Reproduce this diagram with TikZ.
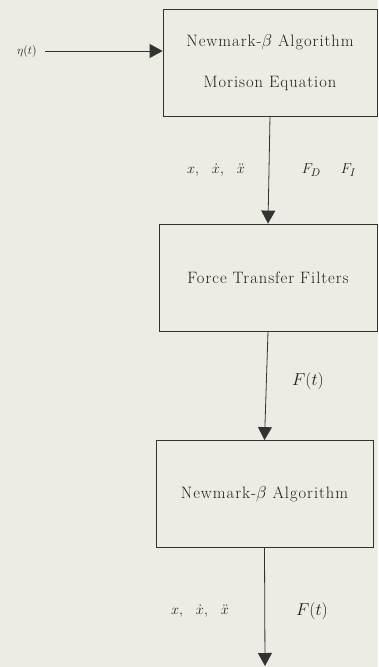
\documentclass[tikz,border=0pt]{standalone}
\usepackage{fontspec}
\newfontfamily\boxfont{Latin Modern Roman}[LetterSpace=6]
\usetikzlibrary{arrows.meta}
\definecolor{bg}{RGB}{236,236,228}
\definecolor{ink}{RGB}{50,50,50}
\definecolor{txt}{RGB}{30,30,30}
\tikzset{
  blockbox/.style={draw=ink, line width=0.8pt, minimum width=#1, minimum height=107pt, inner sep=0pt, align=center,
    text=txt, font=\boxfont\fontsize{16.5}{41}\selectfont},
  flow/.style={draw=ink, line width=0.8pt, -{Triangle[length=13pt,width=14pt]}},
  sig/.style={text=txt, inner sep=0pt},
}
\begin{document}
\begin{tikzpicture}[x=1pt,y=-1pt]
  \fill[bg] (0,0) rectangle (378,667);
  \useasboundingbox (0,0) rectangle (378,667);
  \node[blockbox=214pt] (b1) at (270,62.5) {Newmark-$\beta$ Algorithm\\Morison Equation};
  \node[blockbox=218pt] (b2) at (268,277.5) {Force Transfer Filters};
  \node[blockbox=217pt] (b3) at (264.5,494) {Newmark-$\beta$ Algorithm};
  \coordinate (in) at (45,51);
  \coordinate (out) at (265,666);
  \node[sig, font=\fontsize{12}{14}\selectfont] (eta) at (27,51) {$\eta(t)$};
  \draw[flow] (in) -- (in -| b1.west);
  \draw[flow] (b1.south) -- (b2.north);
  \draw[flow] (b2.south) -- (b3.north);
  \draw[flow] (b3.south) -- (out);
  \node[sig, font=\fontsize{15}{17}\selectfont] (l1) at (216,170) {$x,$\hspace{13pt}$\dot{x},$\hspace{13pt}$\ddot{x}$};
  \node[sig, font=\fontsize{15}{17}\selectfont] (l2) at (329,170) {$F_D$\hspace{20pt}$F_I$};
  \node[sig, font=\fontsize{16}{18}\selectfont] (l3) at (308,381) {$F(t)$};
  \node[sig, font=\fontsize{15}{17}\selectfont] (l4) at (200,611) {$x,$\hspace{13pt}$\dot{x},$\hspace{13pt}$\ddot{x}$};
  \node[sig, font=\fontsize{16}{18}\selectfont] (l5) at (312,611) {$F(t)$};
\end{tikzpicture}
\end{document}
